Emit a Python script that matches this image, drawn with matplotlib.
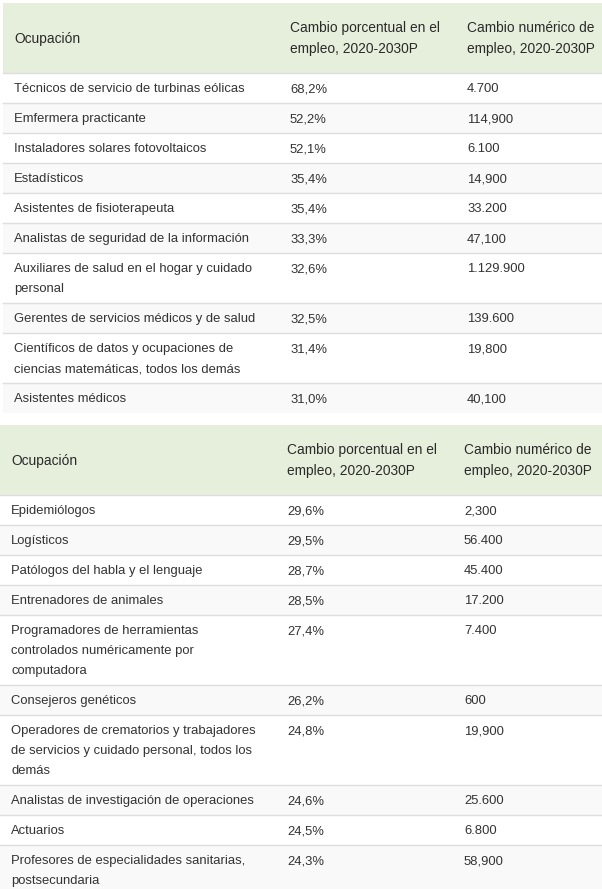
import matplotlib.pyplot as plt
from matplotlib.patches import Rectangle

# === DATOS ===
encabezados = ["Ocupación",
               "Cambio porcentual en el\nempleo, 2020-2030P",
               "Cambio numérico de\nempleo, 2020-2030P"]

ocupaciones_1 = [
    "Técnicos de servicio de turbinas eólicas",
    "Emfermera practicante",
    "Instaladores solares fotovoltaicos",
    "Estadísticos",
    "Asistentes de fisioterapeuta",
    "Analistas de seguridad de la información",
    "Auxiliares de salud en el hogar y cuidado\npersonal",
    "Gerentes de servicios médicos y de salud",
    "Científicos de datos y ocupaciones de\nciencias matemáticas, todos los demás",
    "Asistentes médicos",
]
porcentaje_1 = ["68,2%", "52,2%", "52,1%", "35,4%", "35,4%",
                "33,3%", "32,6%", "32,5%", "31,4%", "31,0%"]
numerico_1 = ["4.700", "114,900", "6.100", "14,900", "33.200",
              "47,100", "1.129.900", "139.600", "19,800", "40,100"]

ocupaciones_2 = [
    "Epidemiólogos",
    "Logísticos",
    "Patólogos del habla y el lenguaje",
    "Entrenadores de animales",
    "Programadores de herramientas\ncontrolados numéricamente por\ncomputadora",
    "Consejeros genéticos",
    "Operadores de crematorios y trabajadores\nde servicios y cuidado personal, todos los\ndemás",
    "Analistas de investigación de operaciones",
    "Actuarios",
    "Profesores de especialidades sanitarias,\npostsecundaria",
]
porcentaje_2 = ["29,6%", "29,5%", "28,7%", "28,5%", "27,4%",
                "26,2%", "24,8%", "24,6%", "24,5%", "24,3%"]
numerico_2 = ["2,300", "56.400", "45.400", "17.200", "7.400",
              "600", "19,900", "25.600", "6.800", "58,900"]

# === ESTILO ===
W, H = 602, 889
verde = "#e6efdc"
gris = "#f9f9f9"
linea = "#dedede"
texto = "#333333"
texto_enc = "#2a2a2a"
fs = 9.4        # ~13 px
fs_enc = 9.9    # ~13.7 px
fuente = "Liberation Sans"


def dibujar_tabla(ax, y0, izq, ocup, pct, num):
    cols = [izq + 11, izq + 287, izq + 464]
    # encabezado
    alto_enc = 70
    ax.add_patch(Rectangle((izq, y0), W - izq, alto_enc, color=verde, lw=0))
    for x, enc in zip(cols, encabezados):
        partes = enc.split("\n")
        if len(partes) == 1:
            bases = [y0 + 40]
        else:
            bases = [y0 + 29, y0 + 50]
        for p, b in zip(partes, bases):
            ax.text(x, b, p, fontsize=fs_enc, family=fuente,
                    color=texto_enc, va="baseline", ha="left")
    y = y0 + alto_enc
    ax.plot([izq, W], [y, y], color=linea, lw=1)
    for k, (o, p, n) in enumerate(zip(ocup, pct, num)):
        lineas = o.split("\n")
        alto = 30 + 20 * (len(lineas) - 1)
        if k % 2 == 1:
            ax.add_patch(Rectangle((izq, y), W - izq, alto, color=gris, lw=0))
        for i, l in enumerate(lineas):
            ax.text(cols[0], y + 19 + 20 * i, l, fontsize=fs, family=fuente,
                    color=texto, va="baseline", ha="left")
        ax.text(cols[1], y + 19, p, fontsize=fs, family=fuente,
                color=texto, va="baseline", ha="left")
        ax.text(cols[2], y + 19, n, fontsize=fs, family=fuente,
                color=texto, va="baseline", ha="left")
        if k > 0:
            ax.plot([izq, W], [y, y], color=linea, lw=1)
        y += alto
    return y


fig = plt.figure(figsize=(W / 100, H / 100), dpi=100)
ax = fig.add_axes([0, 0, 1, 1])
ax.set_xlim(0, W)
ax.set_ylim(H, 0)
ax.axis("off")

fin = dibujar_tabla(ax, 3, 3, ocupaciones_1, porcentaje_1, numerico_1)
dibujar_tabla(ax, fin + 12, 0, ocupaciones_2, porcentaje_2, numerico_2)

fig.savefig("out.png", dpi=100, facecolor="white")
